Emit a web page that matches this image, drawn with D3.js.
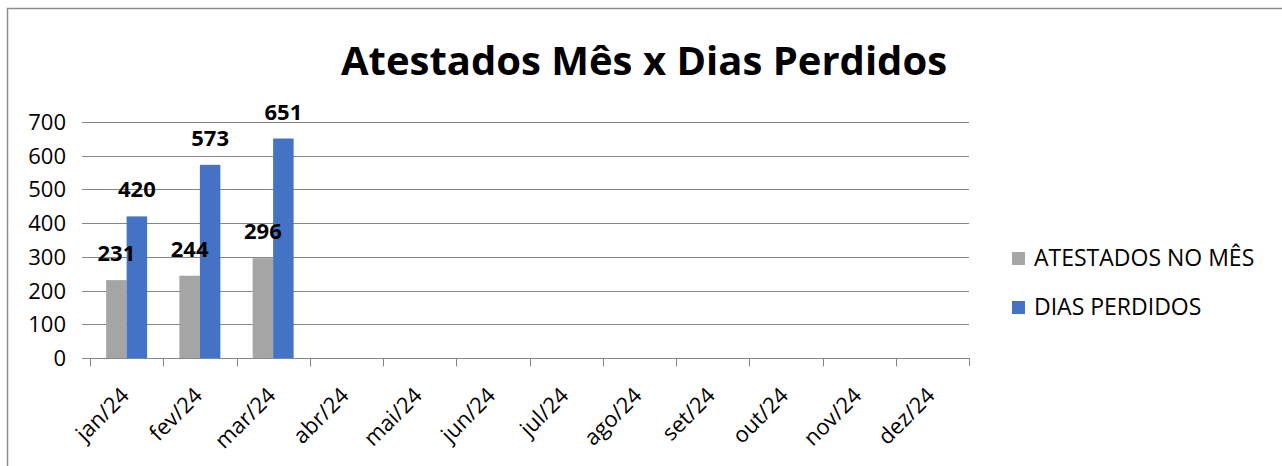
<!DOCTYPE html>
<html>
<head>
<meta charset="utf-8">
<script src="https://cdn.jsdelivr.net/npm/d3@7"></script>
<style>
  body { margin: 0; background: #fff; }
  text { font-family: "Open Sans", "Liberation Sans", sans-serif; }
</style>
</head>
<body>
<div id="chart"></div>
<script>
// data
var months = ['jan/24', 'fev/24', 'mar/24', 'abr/24', 'mai/24', 'jun/24',
              'jul/24', 'ago/24', 'set/24', 'out/24', 'nov/24', 'dez/24'];
var seriesNames = ['ATESTADOS NO MÊS', 'DIAS PERDIDOS'];
var atestados = [231, 244, 296, null, null, null, null, null, null, null, null, null];
var diasPerdidos = [420, 573, 651, null, null, null, null, null, null, null, null, null];
var yTicks = [0, 100, 200, 300, 400, 500, 600, 700];
var colors = ['#A5A5A5', '#4472C4'];

var width = 1282, height = 466;
var plotLeft = 90, plotRight = 969, plotTop = 122, plotBottom = 358;

var svg = d3.select('#chart').append('svg')
    .attr('width', width)
    .attr('height', height);

// chart frame
svg.append('rect')
    .attr('x', 7.5).attr('y', 8.5)
    .attr('width', 1290).attr('height', 480)
    .attr('fill', 'none')
    .attr('stroke', '#8c8c8c')
    .attr('stroke-width', 1.5);

svg.append('text')
    .attr('x', 644).attr('y', 75)
    .attr('text-anchor', 'middle')
    .style('font-size', '40px')
    .style('font-weight', 'bold')
    .text('Atestados Mês x Dias Perdidos');

var x = d3.scaleBand().domain(months).range([plotLeft, plotRight]);
var xInner = d3.scaleBand().domain([0, 1]).range([0, 41]);
var y = d3.scaleLinear().domain([0, 700]).range([plotBottom, plotTop]);

// gridlines
svg.append('g')
    .selectAll('line')
    .data(yTicks)
    .join('line')
    .attr('x1', plotLeft - 8).attr('x2', plotRight)
    .attr('y1', d => Math.round(y(d)) + 0.5)
    .attr('y2', d => Math.round(y(d)) + 0.5)
    .attr('stroke', '#868686')
    .attr('stroke-width', 1);

// y labels
svg.append('g')
    .selectAll('text')
    .data(yTicks)
    .join('text')
    .attr('x', 66)
    .attr('y', d => y(d) + 8)
    .attr('text-anchor', 'end')
    .style('font-size', '22px')
    .text(d => d);

// x axis
var xAxis = d3.axisBottom(x).tickSize(8).tickSizeOuter(0).tickFormat('');
var gx = svg.append('g')
    .attr('transform', 'translate(0,' + (Math.round(plotBottom) + 0.5) + ')')
    .call(xAxis);
gx.select('.domain').remove();
gx.selectAll('.tick').attr('transform', d => 'translate(' + (Math.round(x(d)) + 0.5) + ',0)');
gx.selectAll('.tick line').attr('stroke', '#868686');
svg.append('line')
    .attr('x1', plotRight + 0.5).attr('x2', plotRight + 0.5)
    .attr('y1', plotBottom).attr('y2', plotBottom + 8)
    .attr('stroke', '#868686');

svg.append('g')
    .selectAll('text')
    .data(months)
    .join('text')
    .attr('transform', d => 'translate(' + (x(d) + x.bandwidth() / 2 - 7) + ',' + (plotBottom + 28) + ') rotate(-45)')
    .attr('text-anchor', 'end')
    .attr('dy', '0.7em')
    .style('font-size', '22px')
    .text(d => d);

// bars
var rows = months.map((m, i) => ({month: m, values: [atestados[i], diasPerdidos[i]]}));
var groups = svg.append('g')
    .selectAll('g')
    .data(rows)
    .join('g')
    .attr('transform', d => 'translate(' + (x(d.month) + (x.bandwidth() - 41) / 2) + ',0)');

groups.selectAll('rect')
    .data(d => d.values.map((v, k) => ({k: k, v: v})).filter(e => e.v != null))
    .join('rect')
    .attr('x', e => xInner(e.k))
    .attr('width', xInner.bandwidth())
    .attr('y', e => y(e.v))
    .attr('height', e => plotBottom - y(e.v))
    .attr('fill', e => colors[e.k]);

groups.selectAll('text')
    .data(d => d.values.map((v, k) => ({k: k, v: v})).filter(e => e.v != null))
    .join('text')
    .attr('x', e => xInner(e.k) + xInner.bandwidth() / 2)
    .attr('y', e => y(e.v) - 19)
    .attr('text-anchor', 'middle')
    .style('font-size', '22px')
    .style('font-weight', 'bold')
    .text(e => e.v);

// legend
var legend = svg.append('g')
    .selectAll('g')
    .data(seriesNames)
    .join('g')
    .attr('transform', (d, i) => 'translate(1012,' + (252 + i * 49) + ')');
legend.append('rect')
    .attr('width', 13).attr('height', 13)
    .attr('fill', (d, i) => colors[i]);
legend.append('text')
    .attr('x', 22).attr('y', 14)
    .style('font-size', '23px')
    .text(d => d);
</script>
</body>
</html>
